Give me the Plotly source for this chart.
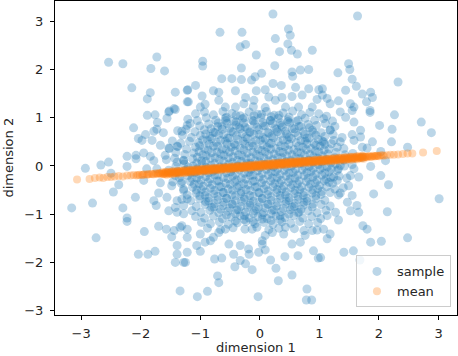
import plotly.graph_objects as go

# sample points: sparse outer ring
outer_pts = [
    (-2.54, 2.15), (-2.30, 2.12), (-1.73, 2.26), (-1.83, 2.02), (-1.60, 1.97),
    (-2.15, 1.62), (-1.84, 1.52), (-1.89, 1.39), (-1.42, 1.53), (-1.22, 1.57),
    (-1.22, 1.33), (-1.44, 1.19), (-1.52, 1.14),
    (0.22, 3.15), (-0.67, 2.77), (-0.30, 2.77), (0.48, 2.84), (0.51, 2.71),
    (0.26, 2.64), (-0.33, 2.47), (-0.24, 2.52), (0.47, 2.53), (0.53, 2.40),
    (0.63, 2.32), (0.88, 2.40), (0.33, 2.37), (-0.06, 2.30), (-0.96, 2.17),
    (-0.96, 2.07), (-0.31, 2.03), (0.25, 2.08), (0.03, 1.92), (0.54, 1.95),
    (0.55, 1.86), (0.68, 1.99), (0.82, 2.00), (-0.64, 1.81), (-0.47, 1.81),
    (-0.31, 1.79), (-0.14, 1.78), (-0.08, 1.85), (-1.08, 1.67), (-1.21, 1.58),
    (0.22, 1.71), (0.36, 1.67), (0.09, 1.58), (-0.78, 1.56), (-0.69, 1.53),
    (-0.41, 1.56), (-0.06, 1.56), (0.60, 1.63), (0.82, 1.60), (0.99, 1.58),
    (-0.97, 1.45), (-0.69, 1.36), (-0.92, 1.28), (-1.00, 1.22), (-1.20, 1.33),
    (-0.24, 1.42), (-0.10, 1.36), (-0.27, 1.29), (0.15, 1.43), (0.26, 1.36),
    (0.37, 1.42), (0.54, 1.44), (0.71, 1.47), (0.96, 1.38), (1.05, 1.47),
    (-0.58, 1.22), (-0.41, 1.22), (-0.11, 1.23), (0.09, 1.21), (0.43, 1.22),
    (0.65, 1.22), (0.88, 1.22),
    (1.64, 3.11), (1.49, 2.12), (1.51, 2.00), (1.31, 1.93), (1.55, 1.80),
    (2.32, 1.74), (1.62, 1.65), (1.44, 1.57), (1.72, 1.49), (1.86, 1.53),
    (1.89, 1.42), (1.05, 1.60), (1.79, 1.33), (1.13, 1.40), (1.32, 1.35),
    (1.52, 1.29), (1.58, 1.22), (1.18, 1.29), (1.85, 1.15),
    (-1.89, 1.05), (-1.76, 1.06), (-1.53, 1.12), (-1.42, 1.17), (-1.56, 0.99),
    (-1.72, 0.90), (-2.12, 0.79), (-1.92, 0.65), (-2.04, 0.57), (-1.98, 0.53),
    (-1.78, 0.72), (-1.62, 0.69), (-1.73, 0.76), (-1.81, 0.53), (-1.31, 0.72),
    (-1.22, 0.84), (-1.67, 0.43), (-1.53, 0.37), (-1.39, 0.41), (-2.23, 0.20),
    (-2.08, 0.22), (-1.95, 0.27), (-1.84, 0.20), (-2.08, 0.15), (-1.78, 0.11),
    (-1.59, 0.22), (-2.93, -0.05), (-2.67, 0.02), (-2.54, 0.08), (-2.23, -0.01),
    (-2.50, -0.15), (-1.39, 0.08), (-1.28, 0.11), (-1.90, -0.06), (-1.73, -0.06),
    (-2.37, -0.39), (-2.46, -0.54), (-1.95, -0.30), (-1.67, -0.35), (-1.48, -0.41),
    (-1.31, -0.32), (-2.09, -0.65), (-2.81, -0.77), (-3.16, -0.87), (-2.30, -0.87),
    (-1.78, -0.72), (-1.70, -0.56), (-1.56, -0.65), (-1.74, -0.82), (-1.39, -0.72),
    (-1.42, -0.86), (-1.28, -0.82), (-1.22, -0.68), (-1.28, -0.51), (-1.42, -0.20),
    (1.85, 1.11), (2.26, 1.06), (2.71, 0.91), (2.88, 0.69), (2.01, 0.84),
    (2.22, 0.76), (1.89, 0.50), (2.21, 0.50), (2.48, 0.39), (2.03, 0.30),
    (1.72, 0.39), (1.80, 0.37), (1.58, 0.53), (1.55, 0.65), (1.69, 0.60),
    (1.72, 0.18), (1.86, -0.01), (2.11, 0.11), (2.03, -0.20), (2.16, -0.39),
    (1.91, -0.58), (3.01, -0.68), (2.14, -0.95), (1.49, -0.41), (1.66, -0.23),
    (1.52, -0.20), (1.58, -0.06), (1.35, 0.01), (1.55, -0.61), (1.47, -0.75),
    (1.63, -0.82), (1.35, -0.56), (1.32, -0.06), (1.24, -0.23), (1.16, -0.34),
    (1.30, -0.30), (1.35, 1.12), (1.55, 1.15), (1.58, 0.91), (1.44, 1.01),
    (1.69, 0.74), (1.18, 0.74), (1.24, 0.53), (1.41, 0.36), (1.07, 0.50),
    (-2.23, -1.08), (-2.23, -1.15), (-2.75, -1.49), (-1.94, -1.36), (-1.70, -1.25),
    (-1.57, -1.31), (-1.44, -1.34), (-1.34, -1.27), (-1.31, -1.24), (-1.22, -1.31),
    (-1.48, -1.47), (-1.39, -1.65), (-1.39, -1.83), (-1.42, -2.00), (-1.28, -2.00),
    (-1.22, -1.79), (-2.04, -1.83), (-1.88, -1.83), (-1.76, -1.77), (-1.34, -2.59),
    (-1.53, -0.93), (-1.39, -0.96), (-1.28, -0.99), (-1.22, -1.48),
    (-1.05, -2.71), (-0.88, -2.60), (-0.03, -2.71), (0.79, -2.55), (0.78, -2.78),
    (0.87, -2.78), (-0.71, -2.28), (-0.69, -2.42), (0.31, -2.38), (0.54, -2.26),
    (-0.13, -2.15), (0.27, -2.12), (0.18, -1.95), (-0.42, -2.09), (-0.33, -1.96),
    (-0.24, -2.03), (0.64, -1.86), (0.42, -1.88), (0.90, -1.76), (0.98, -1.91),
    (-0.76, -1.93), (-0.64, -1.91), (-1.25, -2.00), (-1.06, -1.65), (-1.00, -1.77),
    (-0.83, -1.55), (-0.52, -1.62), (-0.44, -1.83), (-0.33, -1.65), (-0.19, -1.72),
    (-0.02, -1.79), (0.09, -1.74), (0.04, -1.62), (-0.18, -1.83), (0.54, -1.62),
    (0.68, -1.58), (0.74, -1.34), (0.88, -1.34), (0.76, -1.44), (-0.13, -1.31),
    (0.09, -1.44), (0.21, -1.38), (0.04, -1.55), (0.40, -1.41), (0.43, -1.27),
    (-0.69, -1.38), (-0.78, -1.48), (-0.58, -1.31), (-0.92, -1.58), (-1.00, -1.41),
    (2.48, -1.49), (2.04, -1.56), (1.86, -1.58), (1.57, -1.76), (1.41, -1.79),
    (1.73, -1.24), (1.80, -1.31), (1.68, -1.95), (1.18, -1.41), (1.13, -1.51),
    (1.07, -1.31), (1.32, -1.12), (1.27, -0.96), (1.13, -1.03), (1.52, -0.93),
    (1.66, -0.96), (1.02, -1.90),
]

# sample points in the dense middle, row by row
core_pts = [
    (-1.08, 1.08), (-0.93, 1.12), (-0.78, 1.06), (-0.62, 1.13), (-0.47, 1.09), (-0.33, 1.04),
    (-0.18, 1.12), (-0.04, 1.07), (0.11, 1.13), (0.24, 1.05), (0.39, 1.10), (0.55, 1.14),
    (0.70, 1.06), (0.84, 1.11), (0.99, 1.08), (1.12, 1.03),
    (-1.21, 0.97), (-1.05, 0.94), (-0.90, 1.00), (-0.74, 0.95), (-0.58, 0.99), (-0.44, 0.93),
    (-0.29, 0.98), (-0.13, 0.95), (0.02, 1.00), (0.17, 0.94), (0.31, 0.99), (0.47, 0.96),
    (0.61, 0.92), (0.76, 0.99), (0.92, 0.95), (1.07, 0.98), (1.22, 0.93),
    (-1.17, 0.88), (-1.01, 0.83), (-0.86, 0.87), (-0.71, 0.82), (-0.55, 0.88),
    (-0.40, 0.85), (-0.25, 0.81), (-0.09, 0.87), (0.06, 0.83), (0.21, 0.88), (0.36, 0.84),
    (0.50, 0.89), (0.66, 0.82), (0.81, 0.86), (0.95, 0.84), (1.10, 0.88), (1.26, 0.82),
    (-1.38, 0.73), (-1.24, 0.76), (-1.09, 0.71), (-0.93, 0.75), (-0.78, 0.70), (-0.63, 0.76),
    (-0.48, 0.72), (-0.33, 0.77), (-0.17, 0.71), (-0.02, 0.75), (0.13, 0.70), (0.28, 0.76),
    (0.43, 0.72), (0.58, 0.77), (0.73, 0.71), (0.88, 0.74), (1.03, 0.69), (1.18, 0.75),
    (-1.30, 0.64), (-1.15, 0.59), (-1.00, 0.63), (-0.84, 0.61), (-0.69, 0.65),
    (-0.54, 0.58), (-0.39, 0.63), (-0.24, 0.60), (-0.10, 0.65), (0.05, 0.59), (0.20, 0.62),
    (0.35, 0.66), (0.49, 0.60), (0.64, 0.63), (0.79, 0.58), (0.94, 0.64), (1.09, 0.61),
    (1.23, 0.65), (1.38, 0.59),
    (-1.47, 0.52), (-1.33, 0.47), (-1.18, 0.51), (-1.03, 0.48), (-0.88, 0.53), (-0.73, 0.49),
    (-0.58, 0.52), (-0.43, 0.46), (-0.28, 0.51), (-0.13, 0.48), (0.01, 0.53), (0.16, 0.47),
    (0.31, 0.50), (0.46, 0.54), (0.61, 0.48), (0.76, 0.52), (0.91, 0.47), (1.05, 0.51),
    (1.20, 0.46), (1.35, 0.50),
    (-1.52, 0.36), (-1.38, 0.40), (-1.23, 0.35), (-1.08, 0.39), (-0.93, 0.36), (-0.78, 0.41),
    (-0.63, 0.35), (-0.48, 0.39), (-0.33, 0.37), (-0.18, 0.41), (-0.03, 0.35), (0.12, 0.39),
    (0.27, 0.36), (0.42, 0.40), (0.57, 0.34), (0.72, 0.39), (0.86, 0.36), (1.01, 0.41),
    (1.16, 0.35), (1.30, 0.39),
    (-1.41, 0.28), (-1.26, 0.24), (-1.11, 0.27), (-0.96, 0.23), (-0.81, 0.28),
    (-0.66, 0.25), (-0.51, 0.29), (-0.36, 0.23), (-0.21, 0.27), (-0.06, 0.24), (0.09, 0.29),
    (0.24, 0.25), (0.39, 0.28), (0.54, 0.23), (0.69, 0.27), (0.84, 0.24), (0.99, 0.29),
    (1.14, 0.25), (1.28, 0.28), (1.43, 0.23), (1.56, 0.26),
    (-1.57, 0.13), (-1.43, 0.16), (-1.28, 0.12), (-1.13, 0.15), (-0.98, 0.11), (-0.83, 0.16),
    (-0.68, 0.13), (-0.53, 0.17), (-0.38, 0.12), (-0.23, 0.15), (-0.08, 0.11), (0.07, 0.16),
    (0.22, 0.13), (0.37, 0.17), (0.52, 0.11), (0.67, 0.15), (0.82, 0.12), (0.97, 0.16),
    (1.12, 0.13), (1.26, 0.17), (1.41, 0.12),
    (-1.41, -0.01), (-1.27, 0.04), (-1.12, 0.00), (-0.97, 0.05), (-0.82, 0.01),
    (-0.67, -0.02), (-0.52, 0.04), (-0.37, 0.00), (-0.22, 0.05), (-0.07, -0.01), (0.08, 0.03),
    (0.23, -0.02), (0.38, 0.04), (0.53, 0.00), (0.68, 0.05), (0.83, -0.01), (0.98, 0.03),
    (1.13, -0.02), (1.27, 0.04), (1.42, 0.00), (1.55, 0.03),
    (-1.53, -0.09), (-1.38, -0.12), (-1.24, -0.08), (-1.09, -0.13), (-0.94, -0.09), (-0.79, -0.11),
    (-0.64, -0.07), (-0.49, -0.12), (-0.34, -0.08), (-0.19, -0.13), (-0.04, -0.10), (0.11, -0.07),
    (0.26, -0.12), (0.41, -0.09), (0.56, -0.13), (0.71, -0.08), (0.86, -0.11), (1.01, -0.07),
    (1.16, -0.12), (1.30, -0.09),
    (-1.35, -0.24), (-1.21, -0.20), (-1.06, -0.25), (-0.91, -0.22), (-0.76, -0.19),
    (-0.61, -0.24), (-0.46, -0.21), (-0.31, -0.25), (-0.16, -0.20), (-0.01, -0.23), (0.14, -0.19),
    (0.29, -0.24), (0.44, -0.21), (0.59, -0.25), (0.74, -0.20), (0.89, -0.23), (1.04, -0.19),
    (1.19, -0.24), (1.33, -0.21), (1.46, -0.25),
    (-1.46, -0.33), (-1.32, -0.36), (-1.17, -0.32), (-1.02, -0.37), (-0.87, -0.34), (-0.72, -0.31),
    (-0.57, -0.36), (-0.42, -0.33), (-0.27, -0.37), (-0.12, -0.32), (0.03, -0.35), (0.18, -0.31),
    (0.33, -0.36), (0.48, -0.33), (0.63, -0.37), (0.78, -0.32), (0.93, -0.35), (1.08, -0.31),
    (1.22, -0.36),
    (-1.28, -0.48), (-1.13, -0.44), (-0.98, -0.49), (-0.83, -0.46), (-0.68, -0.43),
    (-0.53, -0.48), (-0.38, -0.45), (-0.23, -0.49), (-0.08, -0.44), (0.07, -0.47), (0.22, -0.43),
    (0.37, -0.48), (0.52, -0.45), (0.67, -0.49), (0.82, -0.44), (0.97, -0.47), (1.12, -0.43),
    (1.26, -0.48), (1.40, -0.45),
    (-1.22, -0.60), (-1.07, -0.56), (-0.92, -0.61), (-0.77, -0.58), (-0.62, -0.55),
    (-0.47, -0.60), (-0.32, -0.57), (-0.17, -0.61), (-0.02, -0.56), (0.13, -0.59), (0.28, -0.55),
    (0.43, -0.60), (0.58, -0.57), (0.73, -0.61), (0.88, -0.56), (1.03, -0.59), (1.18, -0.55),
    (1.32, -0.60),
    (-1.31, -0.69), (-1.16, -0.72), (-1.01, -0.68), (-0.86, -0.73), (-0.71, -0.70), (-0.56, -0.67),
    (-0.41, -0.72), (-0.26, -0.69), (-0.11, -0.73), (0.04, -0.68), (0.19, -0.71), (0.34, -0.67),
    (0.49, -0.72), (0.64, -0.69), (0.79, -0.73), (0.94, -0.68), (1.09, -0.71),
    (-1.07, -0.84), (-0.92, -0.80), (-0.77, -0.85), (-0.62, -0.82), (-0.47, -0.79),
    (-0.32, -0.84), (-0.17, -0.81), (-0.02, -0.85), (0.13, -0.80), (0.28, -0.83), (0.43, -0.79),
    (0.58, -0.84), (0.73, -0.81), (0.88, -0.85), (1.03, -0.80), (1.18, -0.83),
    (-1.14, -0.93), (-0.99, -0.96), (-0.84, -0.92), (-0.69, -0.97), (-0.54, -0.94), (-0.39, -0.91),
    (-0.24, -0.96), (-0.09, -0.93), (0.06, -0.97), (0.21, -0.92), (0.36, -0.95), (0.51, -0.91),
    (0.66, -0.96), (0.81, -0.93), (0.96, -0.97), (1.11, -0.92),
    (-1.08, -1.05), (-0.93, -1.08), (-0.78, -1.04), (-0.63, -1.09), (-0.48, -1.06), (-0.33, -1.03),
    (-0.18, -1.08), (-0.03, -1.05), (0.12, -1.09), (0.27, -1.04), (0.42, -1.07), (0.57, -1.03),
    (0.72, -1.08), (0.87, -1.05), (1.02, -1.09),
    (-0.98, -1.17), (-0.83, -1.20), (-0.68, -1.16), (-0.53, -1.21), (-0.38, -1.18), (-0.23, -1.15),
    (-0.08, -1.20), (0.07, -1.17), (0.22, -1.21), (0.37, -1.16), (0.52, -1.19), (0.67, -1.15),
    (0.82, -1.20), (0.97, -1.17),
    (-0.88, -1.29), (-0.66, -1.32), (-0.45, -1.28), (-0.25, -1.31), (-0.05, -1.27), (0.15, -1.32),
    (0.32, -1.29), (0.58, -1.30), (0.96, -1.33),
]

# more sample points in the innermost part, between the rows above
inner_pts = [
    (-0.56, 1.01), (-0.40, 1.05), (-0.26, 1.00), (-0.10, 1.04), (0.03, 1.07), (0.19, 1.02),
    (0.32, 1.05), (0.49, 1.01),
    (-0.70, 0.89), (-0.57, 0.94), (-0.40, 0.91), (-0.27, 0.89), (-0.11, 0.93), (0.05, 0.90),
    (0.18, 0.94), (0.34, 0.89), (0.47, 0.92), (0.64, 0.95),
    (-0.82, 0.77), (-0.64, 0.82), (-0.51, 0.78), (-0.35, 0.81), (-0.21, 0.77), (-0.05, 0.80),
    (0.09, 0.83), (0.25, 0.78), (0.38, 0.81), (0.54, 0.77), (0.69, 0.82), (0.83, 0.79),
    (-0.91, 0.66), (-0.75, 0.69), (-0.61, 0.65), (-0.45, 0.70), (-0.30, 0.67), (-0.16, 0.69),
    (-0.01, 0.65), (0.15, 0.68), (0.29, 0.71), (0.45, 0.66), (0.59, 0.69), (0.75, 0.65), (0.89, 0.70),
    (-0.96, 0.54), (-0.81, 0.57), (-0.66, 0.53), (-0.51, 0.58), (-0.37, 0.55), (-0.21, 0.57),
    (-0.07, 0.53), (0.09, 0.56), (0.23, 0.59), (0.39, 0.54), (0.53, 0.57), (0.69, 0.53),
    (0.83, 0.58), (0.98, 0.55),
    (-1.01, 0.42), (-0.85, 0.45), (-0.71, 0.41), (-0.55, 0.46), (-0.41, 0.43), (-0.25, 0.45),
    (-0.11, 0.41), (0.05, 0.44), (0.19, 0.47), (0.35, 0.42), (0.49, 0.45), (0.65, 0.41),
    (0.79, 0.46), (0.94, 0.43), (1.09, 0.45),
    (-1.02, 0.30), (-0.87, 0.33), (-0.72, 0.29), (-0.57, 0.34), (-0.42, 0.31), (-0.27, 0.33),
    (-0.12, 0.29), (0.03, 0.32), (0.18, 0.35), (0.33, 0.30), (0.48, 0.33), (0.63, 0.29),
    (0.78, 0.34), (0.93, 0.31), (1.08, 0.33),
    (-1.05, 0.18), (-0.90, 0.21), (-0.75, 0.17), (-0.60, 0.22), (-0.45, 0.19), (-0.30, 0.21),
    (-0.15, 0.17), (0.00, 0.20), (0.15, 0.23), (0.30, 0.18), (0.45, 0.21), (0.60, 0.17),
    (0.75, 0.22), (0.90, 0.19), (1.05, 0.21),
    (-1.06, 0.06), (-0.91, 0.09), (-0.76, 0.05), (-0.61, 0.10), (-0.46, 0.07), (-0.31, 0.09),
    (-0.16, 0.05), (-0.01, 0.08), (0.14, 0.11), (0.29, 0.06), (0.44, 0.09), (0.59, 0.05),
    (0.74, 0.10), (0.89, 0.07), (1.04, 0.09), (1.19, 0.06),
    (-1.20, -0.02), (-1.05, -0.06), (-0.90, -0.03), (-0.75, -0.07), (-0.60, -0.02), (-0.45, -0.05),
    (-0.30, -0.03), (-0.15, -0.07), (0.00, -0.04), (0.15, -0.01), (0.30, -0.06), (0.45, -0.03),
    (0.60, -0.07), (0.75, -0.02), (0.90, -0.05), (1.05, -0.03), (1.20, -0.06),
    (-1.16, -0.14), (-1.01, -0.18), (-0.86, -0.15), (-0.71, -0.19), (-0.56, -0.14), (-0.41, -0.17),
    (-0.26, -0.15), (-0.11, -0.19), (0.04, -0.16), (0.19, -0.13), (0.34, -0.18), (0.49, -0.15),
    (0.64, -0.19), (0.79, -0.14), (0.94, -0.17), (1.09, -0.15),
    (-1.14, -0.26), (-0.99, -0.30), (-0.84, -0.27), (-0.69, -0.31), (-0.54, -0.26), (-0.39, -0.29),
    (-0.24, -0.27), (-0.09, -0.31), (0.06, -0.28), (0.21, -0.25), (0.36, -0.30), (0.51, -0.27),
    (0.66, -0.31), (0.81, -0.26), (0.96, -0.29), (1.11, -0.27),
    (-1.10, -0.38), (-0.95, -0.42), (-0.80, -0.39), (-0.65, -0.43), (-0.50, -0.38), (-0.35, -0.41),
    (-0.20, -0.39), (-0.05, -0.43), (0.10, -0.40), (0.25, -0.37), (0.40, -0.42), (0.55, -0.39),
    (0.70, -0.43), (0.85, -0.38), (1.00, -0.41),
    (-1.06, -0.50), (-0.91, -0.54), (-0.76, -0.51), (-0.61, -0.55), (-0.46, -0.50), (-0.31, -0.53),
    (-0.16, -0.51), (-0.01, -0.55), (0.14, -0.52), (0.29, -0.49), (0.44, -0.54), (0.59, -0.51),
    (0.74, -0.55), (0.89, -0.50), (1.04, -0.53),
    (-1.01, -0.62), (-0.86, -0.66), (-0.71, -0.63), (-0.56, -0.67), (-0.41, -0.62), (-0.26, -0.65),
    (-0.11, -0.63), (0.04, -0.67), (0.19, -0.64), (0.34, -0.61), (0.49, -0.66), (0.64, -0.63),
    (0.79, -0.67), (0.94, -0.62),
    (-0.91, -0.74), (-0.76, -0.78), (-0.61, -0.75), (-0.46, -0.79), (-0.31, -0.74), (-0.16, -0.77),
    (-0.01, -0.75), (0.14, -0.79), (0.29, -0.76), (0.44, -0.73), (0.59, -0.78), (0.74, -0.75),
    (0.89, -0.79),
    (-0.81, -0.86), (-0.66, -0.90), (-0.51, -0.87), (-0.36, -0.91), (-0.21, -0.86), (-0.06, -0.89),
    (0.09, -0.87), (0.24, -0.91), (0.39, -0.88), (0.54, -0.85), (0.69, -0.90),
    (-0.56, -1.02), (-0.41, -0.99), (-0.26, -1.03), (-0.11, -0.98), (0.04, -1.01), (0.19, -0.99),
    (0.34, -1.03), (0.49, -1.00), (0.64, -0.97),
    (-0.41, -1.14), (-0.26, -1.11), (-0.11, -1.15), (0.04, -1.10), (0.19, -1.13), (0.34, -1.11),
]

all_pts = outer_pts + core_pts + inner_pts
sample_x = [p[0] for p in all_pts]
sample_y = [p[1] for p in all_pts]

# mean points
mean_x = [
    -3.07, -2.86, -2.77, -2.69, -2.63, -2.56, -2.50, -2.44, -2.37, -2.30, -2.23, -2.17,
    -2.12, -2.07, -2.05, -2.02, -1.98, -1.96, -1.94, -1.90, -1.88, -1.86, -1.82, -1.80,
    -1.78, -1.75, -1.73, -1.71, -1.69, -1.68, -1.66,
    -1.64, -1.62, -1.60, -1.58, -1.56, -1.54, -1.52, -1.50, -1.48, -1.46,
    -1.44, -1.42, -1.40, -1.38, -1.36, -1.34, -1.32, -1.30, -1.28, -1.26,
    -1.24, -1.22, -1.20, -1.18, -1.16, -1.14, -1.12, -1.10, -1.08, -1.06,
    -1.04, -1.02, -1.00, -0.98, -0.96, -0.94, -0.92, -0.90, -0.88, -0.86,
    -0.84, -0.82, -0.80, -0.78, -0.76, -0.74, -0.72, -0.70, -0.68, -0.66,
    -0.64, -0.62, -0.60, -0.58, -0.56, -0.54, -0.52, -0.50, -0.48, -0.46,
    -0.44, -0.42, -0.40, -0.38, -0.36, -0.34, -0.32, -0.30, -0.28, -0.26,
    -0.24, -0.22, -0.20, -0.18, -0.16, -0.14, -0.12, -0.10, -0.08, -0.06,
    -0.04, -0.02, 0.00, 0.02, 0.04, 0.06, 0.08, 0.10, 0.12, 0.14,
    0.16, 0.18, 0.20, 0.22, 0.24, 0.26, 0.28, 0.30, 0.32, 0.34,
    0.36, 0.38, 0.40, 0.42, 0.44, 0.46, 0.48, 0.50, 0.52, 0.54,
    0.56, 0.58, 0.60, 0.62, 0.64, 0.66, 0.68, 0.70, 0.72, 0.74,
    0.76, 0.78, 0.80, 0.82, 0.84, 0.86, 0.88, 0.90, 0.92, 0.94,
    0.96, 0.98, 1.00, 1.02, 1.04, 1.06, 1.08, 1.10, 1.12, 1.14,
    1.16, 1.18, 1.20, 1.22, 1.24, 1.26, 1.28, 1.30, 1.32, 1.34,
    1.36, 1.38, 1.40, 1.42, 1.44, 1.46, 1.48, 1.50, 1.52, 1.54,
    1.56, 1.58, 1.60, 1.62, 1.64, 1.66, 1.68, 1.70, 1.72, 1.74,
    1.77, 1.78, 1.80, 1.82, 1.84, 1.86, 1.88, 1.90, 1.92, 1.94, 1.96, 1.98, 2.00,
    2.03, 2.06, 2.08, 2.13, 2.19, 2.25, 2.32, 2.40, 2.48, 2.56, 2.74, 2.97,
]
mean_y = [
    -0.28, -0.27, -0.25, -0.24, -0.25, -0.23, -0.23, -0.22, -0.21, -0.22, -0.20, -0.20,
    -0.19, -0.20, -0.19, -0.18, -0.19, -0.18, -0.17, -0.18, -0.17, -0.17, -0.16, -0.17,
    -0.17, -0.15, -0.16, -0.16, -0.15, -0.15, -0.16,
    -0.13, -0.17, -0.15, -0.12, -0.18, -0.12, -0.16, -0.14, -0.11, -0.17,
    -0.11, -0.15, -0.13, -0.10, -0.16, -0.10, -0.14, -0.12, -0.09, -0.15,
    -0.09, -0.13, -0.11, -0.08, -0.14, -0.08, -0.12, -0.10, -0.07, -0.13,
    -0.07, -0.11, -0.09, -0.06, -0.12, -0.06, -0.10, -0.08, -0.05, -0.11,
    -0.05, -0.09, -0.07, -0.04, -0.10, -0.04, -0.08, -0.06, -0.03, -0.09,
    -0.03, -0.07, -0.05, -0.02, -0.08, -0.02, -0.06, -0.04, -0.01, -0.07,
    -0.01, -0.05, -0.03, 0.00, -0.06, 0.00, -0.04, -0.02, 0.01, -0.05,
    0.01, -0.03, -0.01, 0.02, -0.04, 0.02, -0.02, 0.00, 0.03, -0.03,
    0.03, -0.01, 0.01, 0.04, -0.02, 0.04, 0.00, 0.02, 0.05, -0.01,
    0.05, 0.01, 0.03, 0.06, 0.00, 0.06, 0.02, 0.04, 0.07, 0.01,
    0.07, 0.03, 0.05, 0.08, 0.02, 0.08, 0.04, 0.06, 0.09, 0.03,
    0.09, 0.05, 0.07, 0.10, 0.04, 0.10, 0.06, 0.08, 0.11, 0.05,
    0.11, 0.07, 0.09, 0.12, 0.06, 0.12, 0.08, 0.10, 0.13, 0.07,
    0.13, 0.09, 0.11, 0.14, 0.08, 0.14, 0.10, 0.12, 0.15, 0.09,
    0.15, 0.11, 0.13, 0.16, 0.10, 0.16, 0.12, 0.14, 0.17, 0.11,
    0.17, 0.13, 0.15, 0.18, 0.12, 0.18, 0.14, 0.16, 0.19, 0.13,
    0.19, 0.15, 0.17, 0.20, 0.14, 0.20, 0.16, 0.18, 0.21, 0.15,
    0.19, 0.19, 0.18, 0.20, 0.20, 0.19, 0.19, 0.21, 0.20, 0.20, 0.21, 0.21, 0.20,
    0.22, 0.22, 0.21, 0.22, 0.23, 0.23, 0.24, 0.25, 0.26, 0.26, 0.28, 0.31,
]
# second pass of mean points through the dense middle (odd hundredths)
mean_x2 = [
    -1.63, -1.61, -1.59, -1.57, -1.55, -1.53, -1.51, -1.49, -1.47, -1.45,
    -1.43, -1.41, -1.39, -1.37, -1.35, -1.33, -1.31, -1.29, -1.27, -1.25,
    -1.23, -1.21, -1.19, -1.17, -1.15, -1.13, -1.11, -1.09, -1.07, -1.05,
    -1.03, -1.01, -0.99, -0.97, -0.95, -0.93, -0.91, -0.89, -0.87, -0.85,
    -0.83, -0.81, -0.79, -0.77, -0.75, -0.73, -0.71, -0.69, -0.67, -0.65,
    -0.63, -0.61, -0.59, -0.57, -0.55, -0.53, -0.51, -0.49, -0.47, -0.45,
    -0.43, -0.41, -0.39, -0.37, -0.35, -0.33, -0.31, -0.29, -0.27, -0.25,
    -0.23, -0.21, -0.19, -0.17, -0.15, -0.13, -0.11, -0.09, -0.07, -0.05,
    -0.03, -0.01, 0.01, 0.03, 0.05, 0.07, 0.09, 0.11, 0.13, 0.15,
    0.17, 0.19, 0.21, 0.23, 0.25, 0.27, 0.29, 0.31, 0.33, 0.35,
    0.37, 0.39, 0.41, 0.43, 0.45, 0.47, 0.49, 0.51, 0.53, 0.55,
    0.57, 0.59, 0.61, 0.63, 0.65, 0.67, 0.69, 0.71, 0.73, 0.75,
    0.77, 0.79, 0.81, 0.83, 0.85, 0.87, 0.89, 0.91, 0.93, 0.95,
    0.97, 0.99, 1.01, 1.03, 1.05, 1.07, 1.09, 1.11, 1.13, 1.15,
    1.17, 1.19, 1.21, 1.23, 1.25, 1.27, 1.29, 1.31, 1.33, 1.35,
    1.37, 1.39, 1.41, 1.43, 1.45, 1.47, 1.49, 1.51, 1.53, 1.55,
    1.57, 1.59, 1.61, 1.63, 1.65, 1.67, 1.69, 1.71, 1.73, 1.75,
]
mean_y2 = [
    -0.16, -0.14, -0.17, -0.13, -0.15, -0.15, -0.13, -0.16, -0.12, -0.14,
    -0.14, -0.12, -0.15, -0.11, -0.13, -0.13, -0.11, -0.14, -0.10, -0.12,
    -0.12, -0.10, -0.13, -0.09, -0.11, -0.11, -0.09, -0.12, -0.08, -0.10,
    -0.10, -0.08, -0.11, -0.07, -0.09, -0.09, -0.07, -0.10, -0.06, -0.08,
    -0.08, -0.06, -0.09, -0.05, -0.07, -0.07, -0.05, -0.08, -0.04, -0.06,
    -0.06, -0.04, -0.07, -0.03, -0.05, -0.05, -0.03, -0.06, -0.02, -0.04,
    -0.04, -0.02, -0.05, -0.01, -0.03, -0.03, -0.01, -0.04, 0.00, -0.02,
    -0.02, 0.00, -0.03, 0.01, -0.01, -0.01, 0.01, -0.02, 0.02, 0.00,
    0.00, 0.02, -0.01, 0.03, 0.01, 0.01, 0.03, 0.00, 0.04, 0.02,
    0.02, 0.04, 0.01, 0.05, 0.03, 0.03, 0.05, 0.02, 0.06, 0.04,
    0.04, 0.06, 0.03, 0.07, 0.05, 0.05, 0.07, 0.04, 0.08, 0.06,
    0.06, 0.08, 0.05, 0.09, 0.07, 0.07, 0.09, 0.06, 0.10, 0.08,
    0.08, 0.10, 0.07, 0.11, 0.09, 0.09, 0.11, 0.08, 0.12, 0.10,
    0.10, 0.12, 0.09, 0.13, 0.11, 0.11, 0.13, 0.10, 0.14, 0.12,
    0.12, 0.14, 0.11, 0.15, 0.13, 0.13, 0.15, 0.12, 0.16, 0.14,
    0.14, 0.16, 0.13, 0.17, 0.15, 0.15, 0.17, 0.14, 0.18, 0.16,
    0.16, 0.18, 0.15, 0.19, 0.17, 0.17, 0.19, 0.16, 0.20, 0.18,
]

ticks = [-3, -2, -1, 0, 1, 2, 3]
tick_text = ["\u22123", "\u22122", "\u22121", "0", "1", "2", "3"]

fig = go.Figure()
fig.add_trace(go.Scatter(
    x=sample_x, y=sample_y, mode="markers", name="sample",
    marker=dict(color="#1f77b4", size=9, opacity=0.3, line=dict(width=0)),
))
fig.add_trace(go.Scatter(
    x=mean_x + mean_x2, y=mean_y + mean_y2, mode="markers", name="mean",
    marker=dict(color="#ff7f0e", size=8, opacity=0.3, line=dict(width=0)),
))

axis_style = dict(
    showline=True, linecolor="black", linewidth=1, mirror=True,
    ticks="outside", ticklen=4, tickcolor="black", tickwidth=1,
    showgrid=False, zeroline=False, tickvals=ticks, ticktext=tick_text,
    tickfont=dict(size=13, color="#262626"), automargin=False,
)
fig.update_xaxes(range=[-3.44, 3.31], ticklabelstandoff=2, **axis_style)
fig.update_yaxes(range=[-3.09, 3.42], ticklabelstandoff=4, **axis_style)

fig.update_layout(
    width=458, height=356,
    margin=dict(l=55, r=1, t=1, b=41),
    plot_bgcolor="white", paper_bgcolor="white",
    font=dict(family="DejaVu Sans", size=13, color="#262626"),
    legend=dict(
        x=0.985, y=0.024, xanchor="right", yanchor="bottom",
        bgcolor="rgba(255,255,255,0.8)", bordercolor="#cccccc", borderwidth=1,
        font=dict(size=13),
    ),
    annotations=[
        dict(text="dimension 1", xref="paper", yref="paper", x=0.5, y=-0.103,
             xanchor="center", yanchor="middle", showarrow=False, font=dict(size=13)),
        dict(text="dimension 2", xref="paper", yref="paper", x=-0.118, y=0.5,
             xanchor="center", yanchor="middle", textangle=-90, showarrow=False,
             font=dict(size=13)),
    ],
    showlegend=True,
)

# page body has an 8px default margin; drop it so the figure sits at the corner
fig.write_html("out.html", config={"displayModeBar": False},
               post_script="document.body.style.margin='0';")
